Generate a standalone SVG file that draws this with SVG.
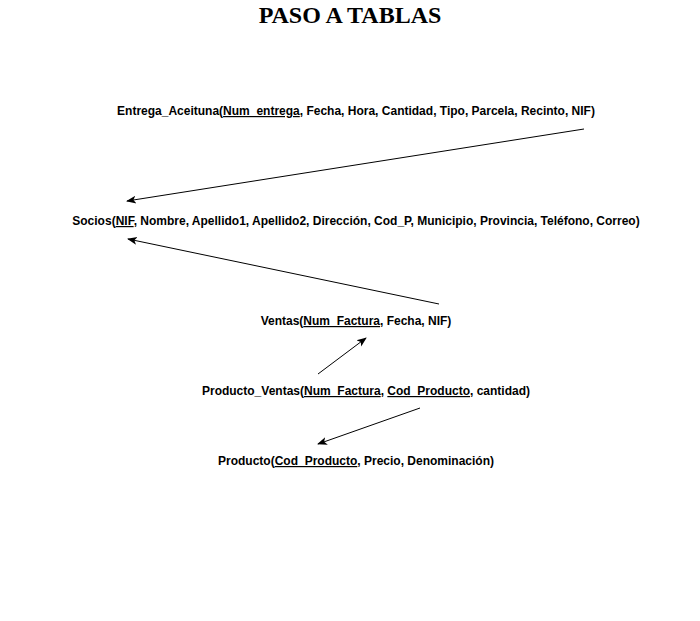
<svg xmlns="http://www.w3.org/2000/svg" width="700" height="621" viewBox="0 0 700 621">
<style>
.t{font-family:"Liberation Sans",Arial,sans-serif;font-size:12px;font-weight:bold;fill:#000;text-anchor:middle}
.u{text-decoration:underline}
.title{font-family:"Liberation Serif","Times New Roman",serif;font-size:24px;font-weight:bold;fill:#000;text-anchor:middle}
.c{stroke:#000;stroke-width:1;fill:none;marker-end:url(#ah)}
</style>
<defs>
<marker id="ah" viewBox="0 0 10 10" refX="9" refY="5" markerWidth="10" markerHeight="10" markerUnits="userSpaceOnUse" orient="auto">
<path d="M0,1 L10,5 L0,9 L2.5,5 Z" fill="#000"/>
</marker>
</defs>
<rect width="700" height="621" fill="#fff"/>
<text class="title" x="350" y="23">PASO A TABLAS</text>
<g id="entrega"><text class="t" x="356" y="115">Entrega_Aceituna(<tspan class="u">Num_entrega</tspan>, Fecha, Hora, Cantidad, Tipo, Parcela, Recinto, NIF)</text></g>
<g id="socios"><text class="t" x="356" y="225">Socios(<tspan class="u">NIF</tspan>, Nombre, Apellido1, Apellido2, Dirección, Cod_P, Municipio, Provincia, Teléfono, Correo)</text></g>
<g id="ventas"><text class="t" x="356" y="325">Ventas(<tspan class="u">Num_Factura</tspan>, Fecha, NIF)</text></g>
<g id="producto_ventas"><text class="t" x="366" y="395">Producto_Ventas(<tspan class="u">Num_Factura</tspan>, <tspan class="u">Cod_Producto</tspan>, cantidad)</text></g>
<g id="producto"><text class="t" x="356" y="465">Producto(<tspan class="u">Cod_Producto</tspan>, Precio, Denominación)</text></g>
<g id="connectors">
<line class="c" x1="584" y1="129" x2="127" y2="201"/>
<line class="c" x1="439" y1="304" x2="128" y2="239"/>
<line class="c" x1="318" y1="374" x2="366" y2="338"/>
<line class="c" x1="420" y1="408" x2="318" y2="444"/>
</g>
</svg>
